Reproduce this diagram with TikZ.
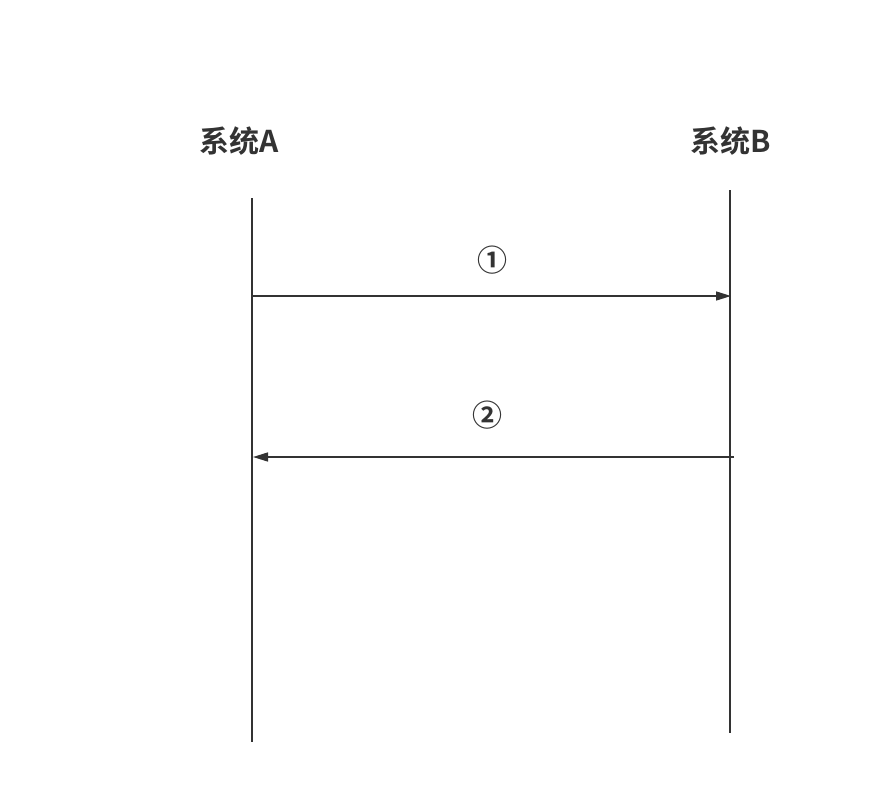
\documentclass[tikz,border=0pt]{standalone}
\usepackage{fontspec}
\newfontfamily\cjk{Noto Sans CJK SC}[BoldFont={Noto Sans CJK SC Bold}]
\usetikzlibrary{arrows.meta}
\definecolor{ink}{HTML}{333333}
\tikzset{
  life/.style={draw=ink, line width=1.5pt},
  msg/.style={draw=ink, line width=1.5pt, -{Triangle[length=15pt,width=9pt]}},
  title/.style={text=ink, font=\cjk\bfseries\fontsize{30}{32}\selectfont, inner sep=0pt},
  num/.style={text=ink, font=\cjk\bfseries\fontsize{30}{32}\selectfont, inner sep=0pt}
}
\begin{document}
\begin{tikzpicture}[x=1pt,y=-1pt]
\useasboundingbox (0,0) rectangle (879,804);
\fill[white] (0,0) rectangle (879,804);
\node[title] (ta) at (239,141) {系统A};
\node[title] (tb) at (731,141) {系统B};
\coordinate (a1) at (252,198);
\coordinate (a2) at (252,742);
\coordinate (b1) at (730,190);
\coordinate (b2) at (730,733);
\draw[life] (a1) -- (a2);
\draw[life] (b1) -- (b2);
\coordinate (m1s) at (252,296);
\coordinate (m1e) at (731,296);
\coordinate (m2s) at (734,457);
\coordinate (m2e) at (253,457);
\draw[msg] (m1s) -- (m1e);
\draw[msg] (m2s) -- (m2e);
\node[num] (n1) at (492,260) {①};
\node[num] (n2) at (487,415) {②};
\end{tikzpicture}
\end{document}
